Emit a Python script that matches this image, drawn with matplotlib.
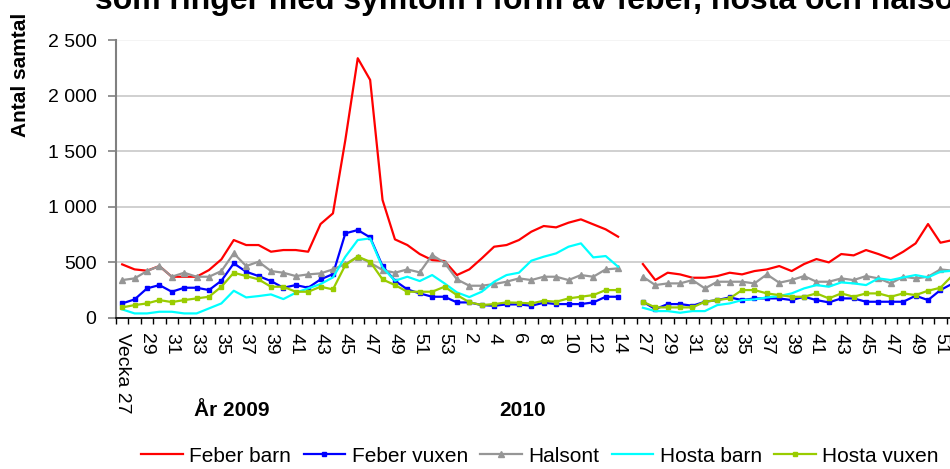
import numpy as np
import matplotlib.pyplot as plt

plt.rcParams['font.family'] = ['Liberation Sans', 'DejaVu Sans']

nan = np.nan

# === Data: weeks (2009 w27-53, 2010 w1-14, gap, 2010 w27-52) ===
weeks_2009 = list(range(27, 54))
weeks_2010_spring = list(range(1, 15))
weeks_2010_autumn = list(range(27, 53))

week_labels = [str(w) for w in weeks_2009 + weeks_2010_spring] + [""] + [str(w) for w in weeks_2010_autumn]
week_labels[0] = "Vecka 27"

feber_barn = [482, 437, 425, 467, 371, 371, 371, 431, 527, 701, 656, 656, 596, 611, 611, 596, 845,
              941, 1601, 2336, 2141, 1061, 707, 656, 575, 521, 512,
              386, 437, 536, 641, 656, 701, 776, 827, 815, 857, 887, 842, 797, 731,
              nan,
              485, 341, 407, 392, 362, 362, 377, 407, 392, 422, 437, 467, 422,
              485, 530, 500, 575, 563, 611, 575, 533, 596, 671, 845, 677, 701]

feber_vuxen = [131, 167, 266, 296, 236, 272, 272, 251, 335, 491, 416, 377, 332, 272, 296, 272, 347,
               395, 761, 791, 725, 467, 335, 257, 221, 191, 191,
               140, 140, 116, 110, 122, 122, 110, 137, 125, 125, 125, 140, 191, 191,
               nan,
               146, 80, 125, 125, 110, 146, 161, 185, 161, 176, 176, 176, 161,
               191, 161, 140, 176, 176, 146, 146, 146, 146, 200, 161, 251, 311]

halsont = [341, 356, 422, 467, 371, 407, 371, 371, 422, 581, 467, 506, 422, 407, 377, 392, 401,
           437, 485, 551, 497, 431, 407, 437, 410, 566, 497,
           347, 290, 290, 305, 326, 356, 341, 371, 371, 341, 386, 371, 437, 446,
           nan,
           371, 296, 311, 311, 341, 266, 326, 326, 326, 311, 392, 317, 341,
           377, 326, 326, 356, 341, 377, 356, 311, 371, 356, 371, 437, 425]

hosta_barn = [77, 41, 41, 56, 56, 41, 41, 86, 131, 245, 185, 197, 212, 170, 227, 266, 305,
              365, 551, 701, 716, 455, 335, 371, 332, 386, 311,
              230, 188, 236, 326, 386, 407, 515, 551, 581, 641, 671, 545, 557, 461,
              nan,
              92, 62, 62, 47, 62, 62, 116, 131, 161, 167, 185, 197, 221,
              266, 296, 281, 320, 311, 296, 356, 341, 365, 386, 365, 416, 425]

hosta_vuxen = [95, 116, 131, 161, 143, 161, 176, 191, 281, 407, 377, 347, 281, 281, 236, 236, 281,
               257, 476, 551, 506, 347, 296, 236, 236, 236, 281,
               206, 142, 116, 125, 140, 137, 131, 155, 146, 176, 191, 206, 251, 251,
               nan,
               146, 95, 95, 95, 95, 146, 161, 176, 251, 251, 221, 206, 191,
               191, 221, 176, 221, 191, 221, 221, 191, 221, 206, 245, 272, 386]

x = np.arange(len(week_labels))

# === Plot ===
fig = plt.figure(figsize=(9.5, 4.69), dpi=100)
ax = fig.add_axes([0.1221, 0.322, 0.8874, 0.5927])

series = [
    ("Feber barn", feber_barn, '#FF0000', None, 0),
    ("Feber vuxen", feber_vuxen, '#0000FF', 's', 3.5),
    ("Halsont", halsont, '#969696', '^', 5),
    ("Hosta barn", hosta_barn, '#00FFFF', None, 0),
    ("Hosta vuxen", hosta_vuxen, '#99CC00', 's', 2.5),
]
for name, vals, color, marker, ms in series:
    ax.plot(x, np.array(vals, dtype=float), color=color, lw=1.6,
            marker=marker, ms=ms, label=name)

# axes
ax.set_xlim(-0.5, len(x) - 0.5)
ax.set_ylim(0, 2500)
yt = np.arange(0, 2501, 500)
ax.set_yticks(yt)
ax.set_yticklabels([f"{v:,}".replace(",", " ") for v in yt], fontsize=14)
ax.tick_params(axis='y', length=6, width=1.2, color='#808080', pad=8)

ax.set_xticks(x[::2])
ax.set_xticklabels(week_labels[::2], rotation=-90, fontsize=14)
ax.set_xticks(np.arange(-0.5, len(x), 1), minor=True)
ax.tick_params(axis='x', which='major', length=0, pad=11)
ax.tick_params(axis='x', which='minor', length=4, width=1, color='black')

for s in ['top', 'right']:
    ax.spines[s].set_visible(False)
ax.spines['left'].set_color('#808080')
ax.spines['left'].set_linewidth(1.5)
ax.spines['bottom'].set_linewidth(1.2)

ax.set_axisbelow(True)
ax.yaxis.grid(True, color='#C8C8C8', lw=1.2)
ax.get_ygridlines()[-1].set_color('#F2F2F2')

# texts (title line is cropped at the top edge, as in the source image)
fig.text(95 / 950, 1 - 9 / 469, "som ringer med symtom i form av feber, hosta och halsont",
         fontsize=23, fontweight='bold', ha='left', va='baseline')
fig.text(21 / 950, 1 - 137 / 469, "Antal samtal", rotation=90, ha='center', va='bottom',
         fontsize=15, fontweight='bold')
fig.text(232 / 950, 1 - 410 / 469, "År 2009", fontsize=15, fontweight='bold', ha='center', va='center')
fig.text(523 / 950, 1 - 410 / 469, "2010", fontsize=15, fontweight='bold', ha='center', va='center')

fig.legend(loc='center', bbox_to_anchor=(540 / 950, 1 - 456 / 469), ncol=5, frameon=False,
           fontsize=15, handlelength=2.0, handletextpad=0.3, columnspacing=0.6)

fig.savefig('out.png', dpi=100)
